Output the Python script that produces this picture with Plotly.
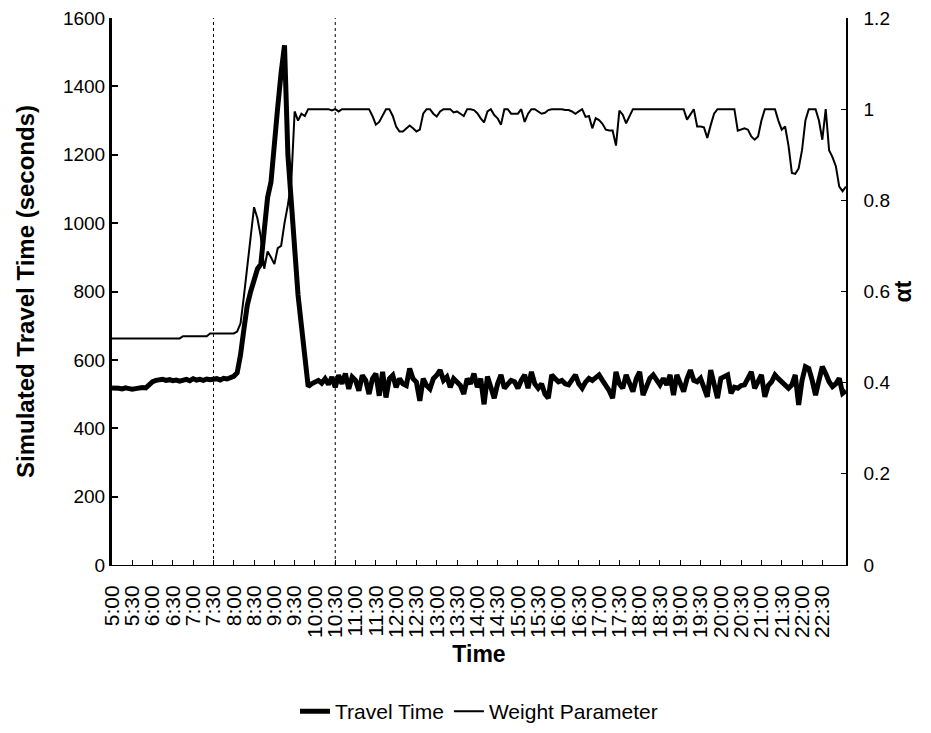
import plotly.graph_objects as go

# Time of day in minutes after midnight (5-minute intervals, 5:00 to 23:05)
times = list(range(300, 1390, 5))

# Simulated travel time (seconds)
travel_time = [
    518, 519, 517, 515, 518, 516, 514, 516, 518, 519, 518, 528,        # 5:00-5:55
    536, 540, 541, 543, 540, 542, 539, 541, 538, 541, 543, 539,        # 6:00-6:55
    545, 541, 543, 540, 544, 542, 543, 545, 541, 546, 544, 548,        # 7:00-7:55
    552, 562, 615, 690, 760, 800, 830, 866, 880, 990, 1075, 1120,      # 8:00-8:55
    1250, 1340, 1440, 1520, 1200, 1055, 930, 790, 700, 610, 522, 530,  # 9:00-9:55
    535, 540, 532, 545, 528, 550, 520, 555, 530, 560, 515, 550,        # 10:00
    540, 510, 555, 540, 500, 545, 560, 495, 565, 490, 545, 555,        # 11:00
    520, 545, 530, 525, 575, 545, 535, 480, 545, 525, 515, 545,        # 12:00
    555, 570, 540, 550, 520, 545, 535, 525, 500, 545, 530, 560,        # 13:00
    520, 545, 470, 551, 520, 488, 530, 556, 517, 530, 540, 536,        # 14:00
    517, 540, 556, 517, 565, 530, 517, 530, 500, 488, 556, 545,        # 15:00
    536, 540, 530, 527, 540, 556, 530, 517, 535, 546, 540, 550,        # 16:00
    556, 540, 527, 510, 488, 565, 530, 517, 556, 530, 507, 545,        # 17:00
    565, 497, 525, 546, 556, 540, 527, 546, 527, 556, 497, 556,        # 18:00
    530, 507, 545, 570, 540, 536, 546, 520, 492, 570, 520, 488,        # 19:00
    546, 550, 556, 502, 520, 517, 525, 527, 550, 565, 517, 540,        # 20:00
    556, 492, 525, 536, 556, 545, 536, 525, 517, 527, 556, 468,        # 21:00
    540, 580, 575, 540, 497, 540, 580, 560, 536, 522, 530, 546,        # 22:00
    502, 510,                                                          # 23:00-23:05
]

# Weight parameter alpha_t
weight = [
    0.497, 0.497, 0.497, 0.497, 0.497, 0.497, 0.497, 0.497, 0.497, 0.497, 0.497, 0.497,
    0.497, 0.497, 0.497, 0.497, 0.497, 0.497, 0.497, 0.497, 0.497, 0.502, 0.502, 0.502,
    0.502, 0.502, 0.502, 0.502, 0.502, 0.508, 0.508, 0.508, 0.508, 0.508, 0.508, 0.508,
    0.508, 0.512, 0.530, 0.590, 0.655, 0.720, 0.785, 0.760, 0.720, 0.650, 0.688, 0.675,
    0.660, 0.695, 0.700, 0.750, 0.790, 0.840, 0.995, 0.975, 0.990, 0.985, 1.000, 1.000,
    1.000, 1.000, 1.000, 1.000, 1.000, 0.997, 1.000, 0.995, 1.000, 1.000, 1.000, 1.000,
    1.000, 1.000, 1.000, 1.000, 1.000, 0.985, 0.966, 0.972, 0.985, 1.000, 1.000, 0.985,
    0.962, 0.951, 0.951, 0.958, 0.964, 0.958, 0.951, 0.955, 0.990, 1.000, 1.000, 0.990,
    0.984, 0.995, 1.000, 1.000, 1.000, 0.993, 0.995, 0.990, 0.985, 1.000, 1.000, 0.998,
    0.991, 0.980, 0.971, 0.995, 1.000, 0.987, 0.980, 0.966, 1.000, 1.000, 0.990, 0.990,
    0.990, 1.000, 0.972, 0.990, 1.000, 1.000, 0.995, 0.990, 0.992, 0.998, 1.000, 1.000,
    1.000, 1.000, 0.998, 0.998, 0.995, 0.990, 0.995, 1.000, 0.983, 0.985, 0.958, 0.980,
    0.976, 0.968, 0.955, 0.953, 0.953, 0.920, 0.997, 0.988, 0.969, 0.983, 1.000, 1.000,
    1.000, 1.000, 1.000, 1.000, 1.000, 1.000, 1.000, 1.000, 1.000, 1.000, 1.000, 1.000,
    1.000, 1.000, 0.977, 0.990, 1.000, 0.962, 0.962, 0.960, 0.937, 0.965, 0.990, 1.000,
    1.000, 1.000, 1.000, 1.000, 1.000, 0.953, 0.956, 0.958, 0.955, 0.940, 0.933, 0.940,
    0.975, 1.000, 1.000, 1.000, 1.000, 0.975, 0.955, 0.962, 0.920, 0.860, 0.858, 0.870,
    0.910, 0.975, 1.000, 1.000, 1.000, 0.975, 0.933, 1.000, 0.910, 0.895, 0.875, 0.830,
    0.820, 0.830,
]

tick_minutes = list(range(300, 1351, 30))
tick_labels = [f"{m // 60}:{m % 60:02d}" for m in tick_minutes]
window_lines = [450, 630]  # 7:30 and 10:30

FONT = "Liberation Sans, Arial, sans-serif"

fig = go.Figure()
fig.add_trace(go.Scatter(
    x=times, y=travel_time, mode="lines", name="Travel Time",
    line=dict(color="black", width=5),
))
fig.add_trace(go.Scatter(
    x=times, y=weight, mode="lines", name="Weight Parameter",
    line=dict(color="black", width=2), yaxis="y2",
))

for t in window_lines:
    fig.add_shape(type="line", xref="x", yref="paper", x0=t, x1=t, y0=0, y1=1,
                  line=dict(color="black", width=1, dash="dot"), layer="below")

fig.update_layout(
    width=931, height=733, autosize=False,
    margin=dict(l=112, r=85, t=18, b=168, autoexpand=False),
    paper_bgcolor="white", plot_bgcolor="white",
    font=dict(family=FONT, color="black", size=19),
    showlegend=True,
    legend=dict(orientation="h", x=0.5, xanchor="center", y=-0.268, yanchor="middle",
                font=dict(size=21), bgcolor="rgba(0,0,0,0)"),
    xaxis=dict(
        range=[300, 1385], tickmode="array", tickvals=tick_minutes, ticktext=tick_labels,
        tickangle=-90, ticks="inside", ticklen=5, tickcolor="black", ticklabelstandoff=11,
        showline=True, linecolor="black", linewidth=1, mirror=False, automargin=False,
        showgrid=False, zeroline=False, tickfont=dict(size=21),
        title=dict(text="<b>Time</b>", font=dict(size=23), standoff=8),
    ),
    yaxis=dict(
        range=[0, 1600], dtick=200, ticks="inside", ticklen=6, tickwidth=2, tickcolor="black",
        showline=True, linecolor="black", linewidth=3, automargin=False,
        showgrid=False, zeroline=False, tickfont=dict(size=19),
        title=dict(text="<b>Simulated Travel Time (seconds)</b>", font=dict(size=24), standoff=22),
    ),
    yaxis2=dict(
        range=[0, 1.2], dtick=0.2, overlaying="y", side="right",
        ticks="inside", ticklen=5, tickcolor="black", ticklabelstandoff=12,
        showline=True, linecolor="black", linewidth=1.5, automargin=False,
        showgrid=False, zeroline=False, tickfont=dict(size=19),
        title=dict(text="<b>αt</b>", font=dict(size=23), standoff=2),
    ),
)

fig.write_html("out.html")
